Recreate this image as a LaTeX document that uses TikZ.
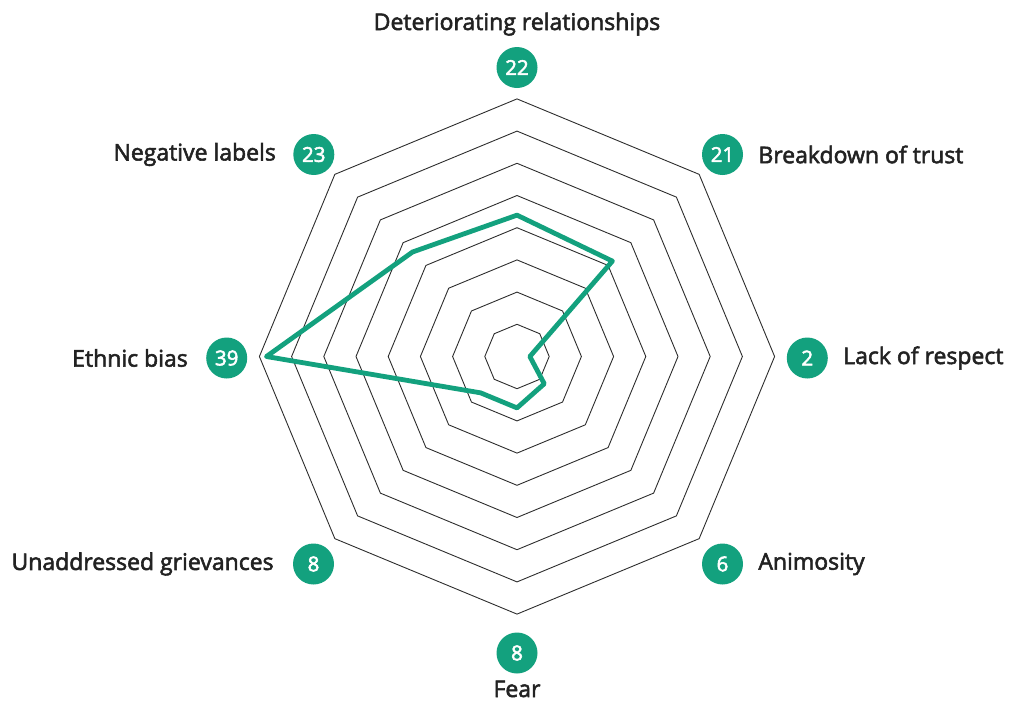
\documentclass[tikz,border=0pt]{standalone}
\usepackage{fontspec}
\usetikzlibrary{calc}
\setmainfont{Open Sans}
\newfontfamily\lblfont{Open Sans}
\newcommand{\medtext}[1]{\special{pdf:literal direct 2 Tr 0.55 w}#1\special{pdf:literal direct 0 Tr}}
\definecolor{radgreen}{RGB}{19,161,126}
\definecolor{gridgray}{RGB}{45,45,45}
\definecolor{txtgray}{RGB}{34,34,34}
\tikzset{
  ring/.style={draw=gridgray,line width=0.9pt,line join=miter},
  series/.style={draw=radgreen,line width=4.8pt,line join=round,line cap=round},
  badge/.style={circle,fill=radgreen,minimum size=41pt,inner sep=0pt,text=white,font=\lblfont\fontsize{20.5}{24}\selectfont},
  lbl/.style={text=txtgray,font=\lblfont\fontsize{23}{24}\selectfont,inner sep=0pt},
}
\begin{document}
\begin{tikzpicture}[x=1pt,y=-1pt]
\useasboundingbox (0,0) rectangle (1012,702);
\coordinate (c) at (517,356.5);
% grid rings
\foreach \k in {1,...,8}{
  \pgfmathsetmacro{\r}{32.2*\k}
  \draw[ring] ($(c)+(90:\r)$) \foreach \a in {45,0,-45,-90,-135,180,135}{ -- ($(c)+(\a:\r)$)} -- cycle;
}
% data points (scale 257/40 per unit); y axis points down, so angles are negated
\coordinate (p1) at ($(c)+(-90:{22*6.425})$);
\coordinate (p2) at ($(c)+(-45:{21*6.425})$);
\coordinate (p3) at ($(c)+(0:{2*6.425})$);
\coordinate (p4) at ($(c)+(45:{6*6.425})$);
\coordinate (p5) at ($(c)+(90:{8*6.425})$);
\coordinate (p6) at ($(c)+(135:{8*6.425})$);
\coordinate (p7) at ($(c)+(180:{39*6.425})$);
\coordinate (p8) at ($(c)+(-135:{23*6.425})$);
\draw[series] (p1) -- (p2) -- (p3) -- (p4) -- (p5) -- (p6) -- (p7) -- (p8) -- cycle;
% badges
\node[badge] (b1) at (517,67.5) {\medtext{22}};
\node[badge] (b2) at (722.5,154.5) {\medtext{21}};
\node[badge] (b3) at (807.3,358) {\medtext{2}};
\node[badge] (b4) at (722.5,564) {\medtext{6}};
\node[badge] (b5) at (517,653) {\medtext{8}};
\node[badge] (b6) at (313.5,564) {\medtext{8}};
\node[badge] (b7) at (226.7,358) {\medtext{39}};
\node[badge] (b8) at (313.8,154.5) {\medtext{23}};
% labels
\node[lbl,anchor=base] (l1) at (517,30) {\medtext{Deteriorating relationships}};
\node[lbl,anchor=west] (l2) at ([xshift=15pt]b2.east) {\medtext{Breakdown of trust}};
\node[lbl,anchor=west] (l3) at ([xshift=15pt]b3.east) {\medtext{Lack of respect}};
\node[lbl,anchor=west] (l4) at ([xshift=15pt]b4.east) {\medtext{Animosity}};
\node[lbl,anchor=base] (l5) at (517,697) {\medtext{Fear}};
\node[lbl,anchor=east] (l6) at ([xshift=-19pt]b6.west) {\medtext{Unaddressed grievances}};
\node[lbl,anchor=east] (l7) at ([xshift=-18pt]b7.west) {\medtext{Ethnic bias}};
\node[lbl,anchor=east] (l8) at ([xshift=-17pt]b8.west) {\medtext{Negative labels}};
\end{tikzpicture}
\end{document}
